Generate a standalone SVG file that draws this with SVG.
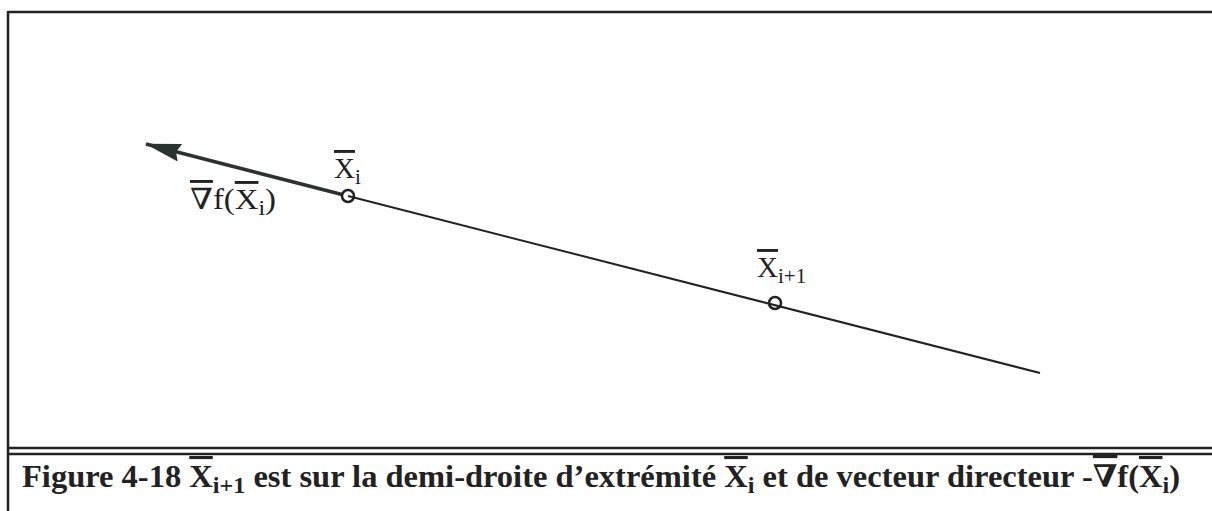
<svg xmlns="http://www.w3.org/2000/svg" width="1212" height="511" viewBox="0 0 1212 511">
<style>
.lbl{font-family:"Liberation Serif","Times New Roman",serif;font-size:29px;fill:#222}
.sub{font-size:21px}
.cap{font-family:"Liberation Serif","Times New Roman",serif;font-size:31px;font-weight:bold;fill:#222}
.csub{font-size:23px}
.nab{font-family:"DejaVu Serif",serif}
.ov{text-decoration:overline}
.frame{stroke:#222;stroke-width:2.5;fill:none}
.pt{fill:none;stroke:#222;stroke-width:2.5}
</style>
<defs>
<marker id="ah2" viewBox="0 0 36 20" refX="35" refY="10" markerWidth="36" markerHeight="20" markerUnits="userSpaceOnUse" orient="auto">
<path d="M0,1 L36,10 L0,19 L4,10 z" fill="#2a3330"/>
</marker>
</defs>
<g id="frame">
<line class="frame" x1="8" y1="12" x2="1212" y2="12"/>
<line class="frame" x1="8" y1="11" x2="8" y2="511"/>
<line class="frame" x1="8" y1="448" x2="1212" y2="448"/>
<line class="frame" x1="8" y1="454" x2="1212" y2="454"/>
</g>
<g id="connectors">
<line x1="1040" y1="373" x2="348" y2="196" stroke="#222" stroke-width="2"/>
<line x1="342" y1="194.5" x2="146" y2="144" stroke="#2a3330" stroke-width="3.5" marker-end="url(#ah2)"/>
</g>
<g id="node-xi">
<circle class="pt" cx="348" cy="196" r="6"/>
<text class="lbl" x="334" y="178"><tspan class="ov">X</tspan><tspan class="sub" dy="6">i</tspan></text>
</g>
<g id="node-xi1">
<circle class="pt" cx="775" cy="303" r="6"/>
<text class="lbl" x="757" y="277"><tspan class="ov">X</tspan><tspan class="sub" dy="6">i+1</tspan></text>
</g>
<g id="label-grad">
<text class="lbl" x="190" y="209" textLength="86" lengthAdjust="spacingAndGlyphs"><tspan class="ov nab">∇</tspan>f(<tspan class="ov">X</tspan><tspan class="sub" dy="6">i</tspan><tspan dy="-6">)</tspan></text>
</g>
<g id="caption">
<text class="cap" x="22" y="487" textLength="1158" lengthAdjust="spacingAndGlyphs">Figure 4-18 <tspan class="ov">X</tspan><tspan class="csub" dy="6">i+1</tspan><tspan dy="-6"> est sur la demi-droite d’extrémité </tspan><tspan class="ov">X</tspan><tspan class="csub" dy="6">i</tspan><tspan dy="-6"> et de vecteur directeur -</tspan><tspan class="ov nab">∇</tspan>f(<tspan class="ov">X</tspan><tspan class="csub" dy="6">i</tspan><tspan dy="-6">)</tspan></text>
</g>
</svg>
